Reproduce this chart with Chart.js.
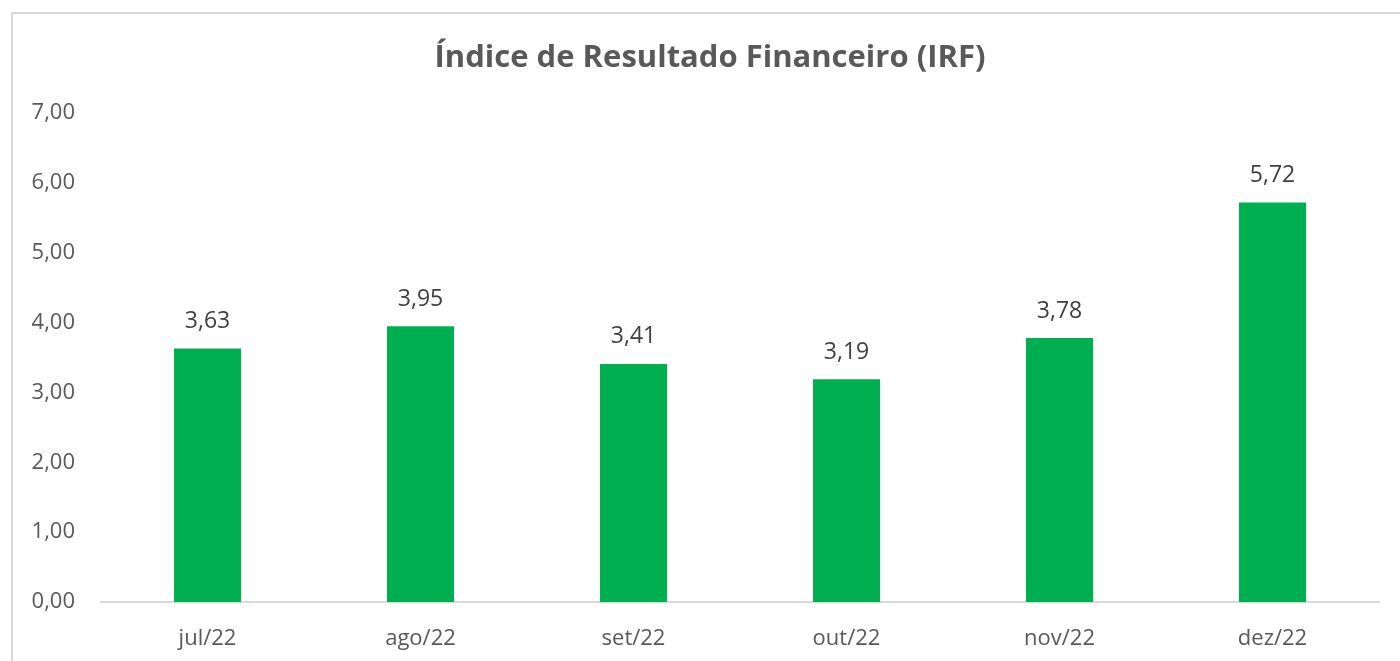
<!DOCTYPE html>
<html><head><meta charset="utf-8">
<script src="https://cdn.jsdelivr.net/npm/chart.js@4"></script>
<style>
html,body{margin:0;padding:0;background:#fff;overflow:hidden;}
#frame{position:absolute;left:11px;top:12px;width:1450px;height:720px;border:2px solid #d9d9d9;box-sizing:border-box;}
#wrap{position:absolute;left:0;top:0;width:1400px;height:661px;}
</style></head>
<body>
<div id="frame"></div>
<div id="wrap"><canvas id="c" width="1400" height="661"></canvas></div>
<script>
const categories = ["jul/22","ago/22","set/22","out/22","nov/22","dez/22"];
const irfValues = [3.63, 3.95, 3.41, 3.19, 3.78, 5.72];
const yTicks = [0,1,2,3,4,5,6,7];
const chartTitle = "Índice de Resultado Financeiro (IRF)";

const fmt = v => v.toFixed(2).replace('.', ',');
const FONT = "'Open Sans', sans-serif";

const labelPlugin = {
  id: 'barLabels',
  afterDatasetsDraw(chart) {
    const ctx = chart.ctx;
    const meta = chart.getDatasetMeta(0);
    ctx.save();
    ctx.font = "23px " + FONT;
    ctx.fillStyle = "#404040";
    ctx.textAlign = 'center';
    ctx.textBaseline = 'middle';
    meta.data.forEach((el, i) => {
      ctx.fillText(fmt(irfValues[i]), el.x, el.y - 27);
    });
    ctx.restore();
  }
};

new Chart(document.getElementById('c'), {
  type: 'bar',
  data: {
    labels: categories,
    datasets: [{
      data: irfValues,
      backgroundColor: '#00B050',
      borderWidth: 0,
      categoryPercentage: 1,
      barPercentage: 0.315,
      yAxisID: 'y'
    }]
  },
  options: {
    responsive: false,
    animation: false,
    devicePixelRatio: 1,
    layout: { padding: { left: 20, right: 0, top: 0, bottom: 0 } },
    plugins: {
      legend: { display: false },
      tooltip: { enabled: false },
      title: {
        display: true,
        text: chartTitle,
        color: '#595959',
        font: { family: FONT, size: 31, weight: 'bold' },
        padding: { top: 40, bottom: 36 }
      }
    },
    scales: {
      x: {
        grid: { display: false, drawTicks: false },
        border: { display: true, color: '#d9d9d9', width: 2 },
        ticks: { color: '#595959', font: { family: FONT, size: 22 }, padding: 24 },
        afterFit(s) { s.height = 59; }
      },
      y: {
        min: 0, max: 7,
        afterBuildTicks(s) { s.ticks = yTicks.map(v => ({ value: v })); },
        grid: { display: false, drawTicks: false },
        border: { display: false },
        ticks: { color: '#595959', font: { family: FONT, size: 22 }, padding: 26, callback: v => fmt(v) },
        afterFit(s) { s.width = 81; }
      },
      yRight: {
        position: 'right',
        min: 0, max: 7,
        grid: { display: false, drawTicks: false },
        border: { display: false },
        ticks: { display: false },
        afterFit(s) { s.width = 21; }
      }
    }
  },
  plugins: [labelPlugin]
});
</script>
</body></html>
